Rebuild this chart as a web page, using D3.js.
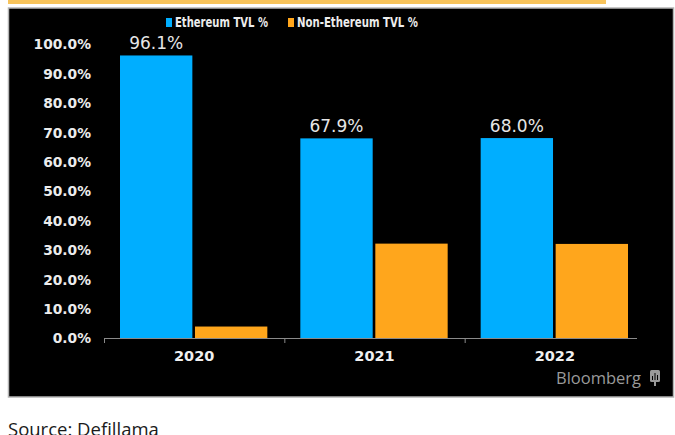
<!DOCTYPE html>
<html>
<head>
<meta charset="utf-8">
<script src="https://cdn.jsdelivr.net/npm/d3@7"></script>
<style>
  body { margin: 0; background: #fff; }
  svg { display: block; }
</style>
</head>
<body>
<div id="chart"></div>
<script>
// chart data
const years = ['2020', '2021', '2022'];
const ethTvl = [96.1, 67.9, 68.0];
const nonEthTvl = [3.9, 32.1, 32.0];
const yTicks = [0, 10, 20, 30, 40, 50, 60, 70, 80, 90, 100];
const seriesNames = ['Ethereum TVL %', 'Non-Ethereum TVL %'];

const totalWidth = 675;
const totalHeight = 435;
const blue = '#00aeff';
const orange = '#ffa61c';

let svg = d3.select('#chart').append('svg')
    .attr('width', totalWidth)
    .attr('height', totalHeight);

// title banner (cut off at the top)
svg.append('rect')
    .attr('x', 8).attr('y', 0)
    .attr('width', 598).attr('height', 4)
    .attr('fill', '#f8c45c');

// black chart frame
svg.append('rect')
    .attr('x', 8.5).attr('y', 8)
    .attr('width', 665).attr('height', 389)
    .attr('fill', '#000')
    .attr('stroke', '#b5b5b5')
    .attr('stroke-width', 1.5);

let x = d3.scaleBand().domain(years).range([104, 645]);
let y = d3.scaleLinear().domain([0, 100]).range([338, 44]);
let inner = d3.scaleBand().domain([0, 1]).range([16, x.bandwidth() - 17]).paddingInner(0.035);

// y axis labels
let axisLeft = svg.append('g')
    .attr('transform', 'translate(94,0)')
    .call(d3.axisLeft(y).tickValues(yTicks).tickSize(0).tickFormat(function(d) {
      return d.toFixed(1) + '%';
    }));
axisLeft.select('.domain').remove();
axisLeft.selectAll('text')
    .attr('fill', '#ececec')
    .attr('font-family', 'DejaVu Sans')
    .attr('font-weight', 'bold')
    .attr('font-size', 13.8)
    .attr('dy', '0.35em');

// bars
let groups = svg.selectAll('.year').data(years)
  .enter().append('g')
    .attr('class', 'year')
    .attr('transform', function(d) {
      return 'translate(' + x(d) + ',0)';
    });

groups.append('rect')
    .attr('x', inner(0))
    .attr('width', inner.bandwidth())
    .attr('y', function(d, i) {
      return y(ethTvl[i]);
    })
    .attr('height', function(d, i) {
      return y(0) - y(ethTvl[i]);
    })
    .attr('fill', blue);

groups.append('rect')
    .attr('x', inner(1))
    .attr('width', inner.bandwidth())
    .attr('y', function(d, i) {
      return y(nonEthTvl[i]);
    })
    .attr('height', function(d, i) {
      return y(0) - y(nonEthTvl[i]);
    })
    .attr('fill', orange);

// value labels above the ethereum bars
groups.append('text')
    .attr('x', inner(0) + inner.bandwidth() / 2)
    .attr('y', function(d, i) {
      return y(ethTvl[i]) - 6;
    })
    .attr('text-anchor', 'middle')
    .attr('fill', '#e6e6e6')
    .attr('font-family', 'DejaVu Sans')
    .attr('font-size', 17)
    .text(function(d, i) {
      return ethTvl[i].toFixed(1) + '%';
    });

// x axis
let axisBottom = svg.append('g');
axisBottom.append('line')
    .attr('x1', x(years[0])).attr('x2', 637)
    .attr('y1', y(0) + 0.5).attr('y2', y(0) + 0.5)
    .attr('stroke', '#8a8a8a');
axisBottom.selectAll('.tick-line').data(years)
  .enter().append('line')
    .attr('class', 'tick-line')
    .attr('x1', function(d) { return x(d) + 0.5; })
    .attr('x2', function(d) { return x(d) + 0.5; })
    .attr('y1', y(0))
    .attr('y2', y(0) + 5)
    .attr('stroke', '#8a8a8a');
axisBottom.selectAll('.year-label').data(years)
  .enter().append('text')
    .attr('class', 'year-label')
    .attr('x', function(d) { return x(d) + x.bandwidth() / 2; })
    .attr('y', 361)
    .attr('text-anchor', 'middle')
    .attr('fill', '#f0f0f0')
    .attr('font-family', 'DejaVu Sans')
    .attr('font-weight', 'bold')
    .attr('font-size', 14.5)
    .text(function(d) { return d; });

// legend
let legendX = [166, 288];
let legendW = [93, 121];
let legend = svg.selectAll('.legend').data(seriesNames)
  .enter().append('g')
    .attr('class', 'legend')
    .attr('transform', function(d, i) {
      return 'translate(' + legendX[i] + ',22)';
    });
legend.append('rect')
    .attr('x', 0).attr('y', -4)
    .attr('width', 6).attr('height', 9)
    .attr('fill', function(d, i) { return i == 0 ? blue : orange; });
legend.append('text')
    .attr('x', 9)
    .attr('dy', '0.36em')
    .attr('fill', '#ececec')
    .attr('font-family', 'DejaVu Sans Condensed, DejaVu Sans')
    .attr('font-weight', 'bold')
    .attr('font-size', 14)
    .attr('textLength', function(d, i) { return legendW[i]; })
    .attr('lengthAdjust', 'spacingAndGlyphs')
    .text(function(d) { return d; });

// bloomberg mark
svg.append('text')
    .attr('x', 641).attr('y', 384)
    .attr('text-anchor', 'end')
    .attr('fill', '#9a9a9a')
    .attr('font-family', 'Open Sans')
    .attr('font-size', 16.5)
    .text('Bloomberg');
svg.append('rect')
    .attr('x', 650).attr('y', 370)
    .attr('width', 10).attr('height', 12)
    .attr('rx', 1.5)
    .attr('fill', '#9a9a9a');
svg.append('path')
    .attr('d', 'M655,382V386')
    .attr('stroke', '#9a9a9a')
    .attr('stroke-width', 2);
svg.append('path')
    .attr('d', 'M652.5,380V376M655,380V373M657.5,380V375')
    .attr('stroke', '#000')
    .attr('stroke-width', 1);

// source note
svg.append('text')
    .attr('x', 8).attr('y', 436)
    .attr('fill', '#1a1a1a')
    .attr('font-family', 'Open Sans')
    .attr('font-size', 18.5)
    .text('Source: Defillama');
</script>
</body>
</html>
